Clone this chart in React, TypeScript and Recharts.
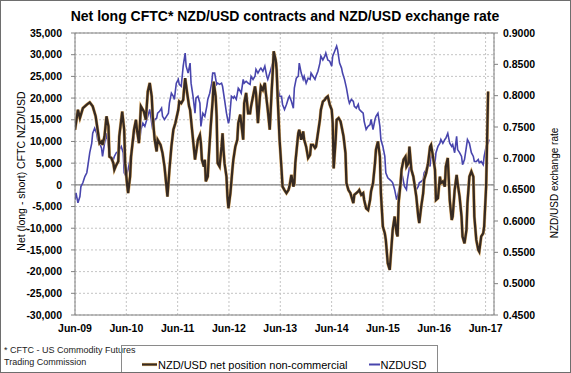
import React from 'react';
import { ComposedChart, Line, XAxis, YAxis, CartesianGrid, ReferenceLine } from 'recharts';

// x values: weeks since early June 2009
const yearLabels = ['Jun-09', 'Jun-10', 'Jun-11', 'Jun-12', 'Jun-13', 'Jun-14', 'Jun-15', 'Jun-16', 'Jun-17'];
const WEEKS_PER_YEAR = 52.18;

const netWeeks = [
  0, 3, 5, 8, 12, 15, 18, 21, 23, 25, 27, 28, 30, 32, 34, 35, 37, 39, 40, 42, 44, 45, 48, 50, 51, 53, 54, 56, 57, 60,
  62, 63, 65, 67, 70, 72, 74, 76, 78, 79, 81, 83, 84, 87, 89, 91, 93, 94, 96, 98, 100, 102, 105, 106,
  108, 110, 111, 112, 114, 116, 117, 119, 121, 122, 124, 125, 127, 128, 129, 131, 132, 133, 135, 136,
  138, 140, 141, 143, 144, 145, 147, 149, 150, 151, 152, 154, 155, 156, 158, 160, 161, 163, 165, 166,
  168, 169, 171, 172, 174, 176, 178, 179, 181, 183, 184, 186, 188, 189, 191, 193, 194, 196, 198, 200,
  201, 202, 204, 205, 206, 208, 210, 211, 213,
  215, 217, 218, 220, 222, 223, 224, 226, 227, 228, 230, 232, 233, 235, 237, 239, 240, 242, 244, 245,
  247, 249, 250, 252, 254, 255, 257, 259, 261, 262, 263, 265, 266, 268, 270, 271, 273, 275, 276, 278,
  280, 282, 283, 284, 286, 288, 289, 291, 293, 294, 296, 298, 300, 301, 303, 305, 306, 308, 310, 311,
  313, 315, 316, 318, 320,
  322, 323, 325, 327, 328, 329, 331, 332, 334, 336, 337, 339, 340, 342, 344, 345, 347, 349, 350, 352,
  354, 355, 357, 359, 361, 362, 364, 366, 367, 369, 371, 372, 374, 376, 377, 379, 381, 383, 384, 386,
  388, 389, 391, 393, 394, 396, 398, 399, 401, 403, 405, 406, 408, 410, 411, 413, 415, 416, 418, 419, 420,
];

const netValues = [
  12700, 17300, 15400, 17700, 18500, 19000, 18100, 15800, 12700, 9600, 10000, 9200, 11200, 15800, 13500, 6500, 6200, 5000, 3500, 4600,
  5400, 11200, 16900, 12700, 5000, 0, -1900, 1900, 6500, 12700, 15000, 12700, 9600, 18100, 16900, 15000, 21500, 23500, 20400, 15800,
  10400, 7700, 10400, 9200, 7300, 4200, -400, -2700, 3500, 8800, 12700, 14200, 17300, 19200,
  18800, 19600, 22300, 24600, 21200, 18100, 17300, 12700, 8100, 5800, 8800, 10400, 11500, 9600, 5800, 4200, 5800, 800, 1900, 6500,
  13500, 19600, 23800, 20400, 15800, 5000, 4200, 8800, 11900, 8100, 5000, 1900, -2700, -5400, -1900, 3500, 5800, 8800, 10400, 14200,
  16200, 14200, 10400, 18800, 21200, 16500, 16500, 18100, 20400, 22700, 21200, 14200, 20400, 22700, 21900, 23500, 21200, 17300, 12700, 21900,
  25800, 30800, 28800, 26500, 20400, 10400, 3500, -400, -1200,
  -1900, -1200, -400, 2300, -400, 400, 5000, 9600, 11900, 12700, 10400, 12300, 10400, 8800, 6200, 6900, 9200, 9200, 8500, 8800,
  11900, 15000, 17300, 19200, 19600, 20000, 20400, 18500, 17300, 14200, 3800, 10400, 15000, 15400, 14600, 13500, 11200, 7300, 400, -1200,
  -1900, -3500, -4200, -2300, -1900, -1500, -1200, -2300, -1900, -3500, -5400, -5800, -3500, -1500, 400, 5000, 8100, 10000, 6500, -1900,
  -9600, -11200, -12700, -18100, -19600,
  -13500, -10400, -7300, -11200, -11900, -4200, 400, 3500, 5800, 6500, 4200, 5000, 8800, 3500, 1900, 400, -2700, -7300, -8800, -5000,
  -1900, 1200, 2700, 5000, 8800, 9200, 6500, 3500, -3500, -3100, 1900, 400, 800, -400, 4200, 6200, -3500, -8100, -7300, -1200,
  2300, 400, -2700, -7300, -11900, -13500, -10400, -4200, 1900, 3100, 1900, -7300, -12700, -15000, -15400, -11900, -11200, -9600, -400, 10400, 21500,
];

const fxWeeks = [
  0, 1, 3, 5, 6, 8, 10, 12, 13, 15, 17, 18, 20, 22, 23, 25, 27, 28, 30, 32, 34, 35, 37, 39, 40, 42, 44, 45, 47, 49,
  50, 52, 54, 56, 57, 59, 61, 62, 64, 66, 67, 69, 71, 73, 74, 76, 78, 79, 81, 83, 84, 86, 88, 89, 91, 93, 95, 96, 98, 100,
  101, 103, 105, 106,
  108, 110, 112, 113, 115, 117, 118, 120, 122, 123, 125, 127, 128, 130, 132, 134, 135, 137, 139, 140,
  142, 144, 145, 147, 149, 150, 152, 154, 156, 157, 159, 161, 162, 164, 166, 167, 169, 171, 172, 174,
  176, 178, 179, 181, 183, 184, 186, 188, 189, 191, 193, 195, 196, 198, 200, 201, 203, 205, 206, 208, 210, 211, 213,
  215, 217, 218, 220, 222, 223, 225, 227, 228, 230, 232, 233, 235, 237, 239, 240, 242, 244, 245, 247,
  249, 250, 252, 254, 255, 257, 259, 261, 262, 264, 266, 267, 269, 271, 272, 274, 276, 278, 279, 281,
  283, 284, 286, 288, 289, 291, 293, 294, 296, 298, 300, 301, 303, 305, 306, 308, 310, 311, 313, 315, 316, 318, 320,
  322, 323, 325, 327, 328, 330, 332, 333, 335, 337, 338, 340, 342, 344, 345, 347, 349, 350, 352, 354,
  355, 357, 359, 361, 362, 364, 366, 367, 369, 371, 372, 374, 376, 377, 379, 381, 383, 384, 386, 388,
  389, 391, 393, 394, 396, 398, 399, 401, 403, 405, 406, 408, 410, 411, 413, 415, 416, 418, 420, 421,
];

const fxValues = [
  0.634, 0.645, 0.629, 0.639, 0.655, 0.661, 0.671, 0.677, 0.687, 0.709, 0.724, 0.74, 0.748, 0.74, 0.73, 0.724, 0.716, 0.703, 0.724, 0.74,
  0.719, 0.709, 0.698, 0.698, 0.703, 0.709, 0.711, 0.714, 0.719, 0.709, 0.677, 0.671, 0.682, 0.698, 0.709, 0.724, 0.746, 0.756, 0.74, 0.73,
  0.746, 0.756, 0.751, 0.762, 0.767, 0.778, 0.756, 0.746, 0.762, 0.764, 0.772, 0.775, 0.78, 0.767, 0.762, 0.767, 0.772, 0.788, 0.804, 0.799,
  0.794, 0.82, 0.826, 0.818,
  0.815, 0.847, 0.868, 0.847, 0.836, 0.852, 0.82, 0.799, 0.772, 0.796, 0.799, 0.788, 0.751, 0.772, 0.767, 0.783, 0.794, 0.804, 0.82, 0.836,
  0.836, 0.818, 0.82, 0.818, 0.82, 0.815, 0.794, 0.772, 0.756, 0.762, 0.799, 0.796, 0.799, 0.794, 0.812, 0.81, 0.804, 0.826, 0.82, 0.823,
  0.82, 0.818, 0.831, 0.826, 0.831, 0.842, 0.836, 0.842, 0.844, 0.839, 0.847, 0.831, 0.826, 0.836, 0.847, 0.852, 0.863, 0.852, 0.815, 0.799,
  0.799, 0.786, 0.778,
  0.786, 0.796, 0.799, 0.791, 0.78, 0.812, 0.828, 0.831, 0.852, 0.836, 0.826, 0.831, 0.82, 0.828, 0.826, 0.836, 0.831, 0.826, 0.831, 0.839,
  0.852, 0.863, 0.857, 0.863, 0.868, 0.857, 0.855, 0.847, 0.863, 0.871, 0.879, 0.873, 0.852, 0.844, 0.836, 0.826, 0.812, 0.794, 0.788, 0.794,
  0.791, 0.783, 0.78, 0.786, 0.778, 0.775, 0.772, 0.759, 0.746, 0.751, 0.754, 0.762, 0.746, 0.762, 0.767, 0.772, 0.751, 0.73, 0.719, 0.703,
  0.677, 0.669, 0.666,
  0.663, 0.661, 0.65, 0.634, 0.639, 0.655, 0.677, 0.671, 0.655, 0.65, 0.666, 0.685, 0.682, 0.669, 0.655, 0.65, 0.655, 0.661, 0.663, 0.666,
  0.677, 0.682, 0.695, 0.687, 0.709, 0.698, 0.693, 0.709, 0.719, 0.724, 0.73, 0.724, 0.73, 0.732, 0.74, 0.724, 0.719, 0.722, 0.709, 0.735,
  0.714, 0.709, 0.703, 0.69, 0.698, 0.719, 0.73, 0.724, 0.709, 0.703, 0.695, 0.695, 0.698, 0.693, 0.695, 0.69, 0.703, 0.719, 0.724, 0.73,
];

const netTicks = [-30000, -25000, -20000, -15000, -10000, -5000, 0, 5000, 10000, 15000, 20000, 25000, 30000, 35000];
const fxTicks = [0.45, 0.5, 0.55, 0.6, 0.65, 0.7, 0.75, 0.8, 0.85, 0.9];

const seriesNames = ['NZD/USD net position non-commercial', 'NZDUSD'];
const titleText = 'Net long CFTC* NZD/USD contracts and NZD/USD exchange rate';

const rowMap = new Map<number, { w: number; net?: number; fx?: number }>();
netWeeks.forEach((w, i) => {
  const r = rowMap.get(w) ?? { w };
  r.net = netValues[i];
  rowMap.set(w, r);
});
fxWeeks.forEach((w, i) => {
  const r = rowMap.get(w) ?? { w };
  r.fx = fxValues[i];
  rowMap.set(w, r);
});
const rows = Array.from(rowMap.values()).sort((a, b) => a.w - b.w);

const xTicks = yearLabels.map((_, i) => i * WEEKS_PER_YEAR);

const FONT = '"Liberation Sans", Arial, Helvetica, sans-serif';
const BROWN = '#362a22';
const HALO = '#e2b26c';
const BLUE = '#4845ad';

const tickStyle = { fontSize: 10.5, fontWeight: 700, fill: '#000', fontFamily: FONT };

export default function App() {
  return (
    <div style={{ position: 'absolute', left: 0, top: 0, width: 571, height: 373, background: '#fff', fontFamily: FONT }}>
      <ComposedChart width={571} height={373} data={rows} margin={{ top: 33, right: 0, bottom: 33, left: 0 }}>
        <CartesianGrid yAxisId="left" stroke="#c4c4c4" strokeDasharray="2 2" />
        <XAxis
          dataKey="w"
          type="number"
          domain={[0, 426]}
          ticks={xTicks}
          tickFormatter={(v: number) => yearLabels[Math.round(v / WEEKS_PER_YEAR)] ?? ''}
          tick={tickStyle}
          tickLine={false}
          tickSize={6}
          tickMargin={4}
          height={25}
          stroke="#808080"
          allowDataOverflow
        />
        <YAxis
          yAxisId="left"
          domain={[-30000, 35000]}
          ticks={netTicks}
          tickFormatter={(v: number) => v.toLocaleString('en-US')}
          tick={tickStyle}
          tickSize={4}
          tickMargin={9}
          width={75}
          stroke="#808080"
          interval={0}
        />
        <YAxis
          yAxisId="right"
          orientation="right"
          domain={[0.45, 0.9]}
          ticks={fxTicks}
          tickFormatter={(v: number) => v.toFixed(4)}
          tick={tickStyle}
          tickSize={4}
          tickMargin={5}
          width={77}
          stroke="#808080"
          interval={0}
        />
        <ReferenceLine yAxisId="left" y={0} stroke="#858585" strokeWidth={1.3} />
        <ReferenceLine yAxisId="left" y={35000} stroke="#808080" strokeWidth={1} />
        <Line yAxisId="right" dataKey="fx" name={seriesNames[1]} stroke={BLUE} strokeWidth={1.6} dot={false} connectNulls isAnimationActive={false} type="linear" />
        <Line yAxisId="left" dataKey="net" stroke={HALO} strokeWidth={3.2} dot={false} connectNulls isAnimationActive={false} type="linear" legendType="none" />
        <Line yAxisId="left" dataKey="net" name={seriesNames[0]} stroke={BROWN} strokeWidth={2.3} dot={false} connectNulls isAnimationActive={false} type="linear" />
      </ComposedChart>
      <svg width={571} height={373} style={{ position: 'absolute', left: 0, top: 0, pointerEvents: 'none' }}>
        <text x={285} y={21} textAnchor="middle" fontSize={14} fontWeight={700} fontFamily={FONT} fill="#000">
          {titleText}
        </text>
        <text
          x={21}
          y={171}
          textAnchor="middle"
          dominantBaseline="central"
          fontSize={10.5}
          fontFamily={FONT}
          fill="#000"
          transform="rotate(-90 21 171)"
        >
          Net (long - short) CFTC NZD/USD
        </text>
        <text
          x={554}
          y={183}
          textAnchor="middle"
          dominantBaseline="central"
          fontSize={10}
          fontFamily={FONT}
          fill="#000"
          transform="rotate(-90 554 183)"
        >
          NZD/USD exchange rate
        </text>
        <text x={4} y={352.5} fontSize={9} fontFamily={FONT} fill="#222">* CFTC - US Commodity Futures</text>
        <text x={4} y={364.5} fontSize={9} fontFamily={FONT} fill="#222">Trading Commission</text>
        <rect x={121.5} y={345.5} width={316} height={40} fill="none" stroke="#8a8a8a" strokeWidth={1} />
        <line x1={142} x2={157} y1={364.5} y2={364.5} stroke={HALO} strokeWidth={3.2} />
        <line x1={142} x2={157} y1={364.5} y2={364.5} stroke={BROWN} strokeWidth={2.1} />
        <text x={158} y={368.5} fontSize={11} fontFamily={FONT} fill="#000">{seriesNames[0]}</text>
        <line x1={369} x2={380} y1={364.5} y2={364.5} stroke={BLUE} strokeWidth={2} />
        <text x={380.5} y={368.5} fontSize={11} fontFamily={FONT} fill="#000">{seriesNames[1]}</text>
      </svg>
      <div
        style={{
          position: 'absolute',
          left: 0,
          top: 0,
          width: 571,
          height: 373,
          boxSizing: 'border-box',
          border: '1.5px solid #6e6e6e',
          pointerEvents: 'none',
        }}
      />
    </div>
  );
}
